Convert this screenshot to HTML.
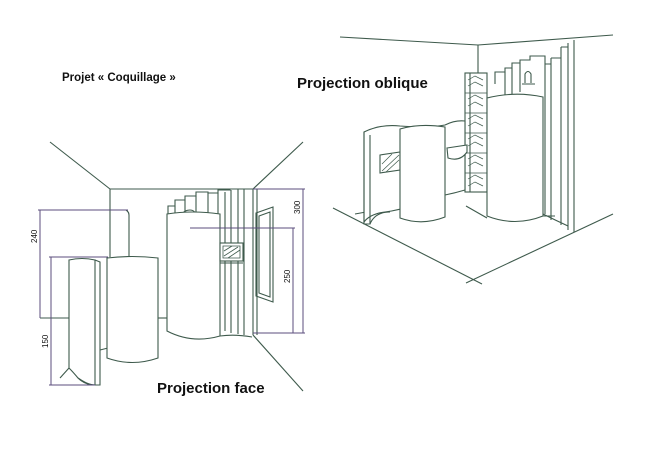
<!DOCTYPE html>
<html><head><meta charset="utf-8"><style>
html,body{margin:0;padding:0;background:#fff;}
svg{display:block;}
text{font-family:"Liberation Sans",sans-serif;}
</style></head><body>
<svg width="655" height="455" viewBox="0 0 655 455" xmlns="http://www.w3.org/2000/svg">
<rect width="655" height="455" fill="#fff"/>
<text x="62" y="81" font-size="11.5" font-weight="bold" fill="#111">Projet « Coquillage »</text>
<text x="297" y="88" font-size="15" font-weight="bold" fill="#111">Projection oblique</text>
<text x="157" y="393" font-size="15" font-weight="bold" fill="#111">Projection face</text>

<!-- LEFT: face view -->
<g fill="none" stroke="#3e5a4c" stroke-width="1.1">
<line x1="50" y1="142" x2="110" y2="189"/>
<line x1="110" y1="189" x2="253" y2="189"/>
<line x1="253" y1="189" x2="303" y2="142"/>
<line x1="253" y1="189" x2="253" y2="335"/>
<line x1="257" y1="189" x2="257" y2="335"/>
<line x1="253" y1="335" x2="303" y2="391"/>
<line x1="110" y1="189" x2="110" y2="257"/>
<path d="M110 210 L126 210 Q129 212 129 215 L129 257"/>
<line x1="70" y1="318" x2="40" y2="318"/>
<line x1="158" y1="318" x2="168" y2="318"/>
<!-- left panel -->
<path d="M69 260 Q82 257 95 260 L95 385 Q85 385 78 378 Q73 372 69 368 Z" fill="#fff"/>
<path d="M95 260 L100 262 L100 385 L95 385"/>
<path d="M60 378 L69 368 M78 378 Q88 385 95 385"/>
<line x1="100" y1="350" x2="108" y2="348"/>
<!-- middle cylinder -->
<path d="M107 258 Q132 255 158 258 L158 358 Q132 367 107 358 Z" fill="#fff"/>
<!-- steps -->
<path d="M168 215 L168 206 L175 206 L175 200 L185 200 L185 196 L196 196 L196 192 L208 192 L208 193 L218 193 L218 190 L230 190 L230 189"/>
<path d="M175 206 L175 227 M185 200 L185 228 M196 196 L196 228 M208 193 L208 228 M218 193 L218 228"/>
<path d="M180 224 Q180 210 190 210 Q198 210 196 224 M183 222 Q184 214 190 214 Q195 214 194 222"/>
<!-- right cylinder -->
<path d="M167 214 L167 331 Q192 344 220 336 L220 214 Q192 210 167 214 Z" fill="#fff"/>
<path d="M220 336 Q235 334 252 337"/>
<line x1="225" y1="192" x2="225" y2="331"/>
<line x1="231" y1="190" x2="231" y2="333"/>
<line x1="238" y1="189" x2="238" y2="334"/>
<line x1="244" y1="189" x2="244" y2="335"/>
<!-- shelf -->
<rect x="220" y="243" width="23" height="18" fill="#fff"/>
<path d="M223 246 L240 246 L240 258 L223 258 Z M224 256 L238 247 M228 258 L240 250 M224 251 L232 246" stroke-width="0.8"/>
<line x1="220" y1="263" x2="243" y2="263"/>
<!-- mirror -->
<path d="M256 213 L273 207 L273 302 L256 296 Z"/>
<path d="M259 216 L270 212 L270 297 L259 293 Z"/>
</g>
<!-- dimensions -->
<g fill="none" stroke="#5b4d7c" stroke-width="1">
<line x1="40" y1="210" x2="40" y2="318"/>
<line x1="38" y1="210" x2="128" y2="210"/>
<line x1="51" y1="257" x2="51" y2="385"/>
<line x1="49" y1="257" x2="108" y2="257"/>
<line x1="49" y1="385" x2="95" y2="385"/>
<line x1="303" y1="189" x2="303" y2="333"/>
<line x1="253" y1="189" x2="305" y2="189"/>
<line x1="253" y1="333" x2="305" y2="333"/>
<line x1="293" y1="228" x2="293" y2="333"/>
<line x1="190" y1="228" x2="295" y2="228"/>
</g>
<g font-size="8" fill="#111">
<text transform="translate(37,243) rotate(-90)">240</text>
<text transform="translate(48,348) rotate(-90)">150</text>
<text transform="translate(300,214) rotate(-90)">300</text>
<text transform="translate(290,283) rotate(-90)">250</text>
</g>

<!-- RIGHT: oblique view -->
<g fill="none" stroke="#3e5a4c" stroke-width="1.1">
<line x1="340" y1="37" x2="478" y2="45"/>
<line x1="478" y1="45" x2="613" y2="35"/>
<line x1="478" y1="45" x2="478" y2="73"/>
<line x1="333" y1="208" x2="482" y2="284"/>
<line x1="466" y1="283" x2="613" y2="214"/>
<line x1="355" y1="214" x2="366" y2="212"/>
<!-- right wall strips -->
<line x1="568" y1="43" x2="568" y2="230"/>
<line x1="574" y1="40" x2="574" y2="232"/>
<path d="M561 47 L568 47 M561 47 L561 225 M551 58 L561 58 M551 58 L551 220 M545 64 L551 64 M545 64 L545 214"/>
<path d="M543 214 Q555 220 568 226"/>
<!-- steps -->
<path d="M495 84 L495 72 L505 72 L505 68 L512 68 L512 63 L520 63 L520 60 L530 60 L530 56 L545 56 L545 64"/>
<path d="M505 72 L505 95 M512 68 L512 95 M520 63 L520 92"/>
<path d="M525 83 L525 74 Q528 69 531 74 L531 83 M522 84 L535 84"/>
<!-- tile column -->
<rect x="465" y="73" width="22" height="119" fill="#fff"/>
<g stroke-width="0.7">
<path d="M465 93 L487 93 M465 113 L487 113 M465 133 L487 133 M465 153 L487 153 M465 173 L487 173"/>
<path d="M468 80 L475 76 L483 80 M468 86 L475 82 L483 86 M468 99 L475 95 L483 99 M468 106 L475 102 L483 106 M468 119 L475 115 L483 119 M468 126 L475 122 L483 126 M468 139 L475 135 L483 139 M468 146 L475 142 L483 146 M468 159 L475 155 L483 159 M468 166 L475 162 L483 166 M468 179 L475 175 L483 179 M468 186 L475 182 L483 186"/>
</g>
<line x1="470" y1="73" x2="470" y2="192"/>
<!-- curved back panel -->
<path d="M364 132 Q380 124 400 126 Q430 128 445 125 Q455 120 465 121 L465 190 Q455 193 445 195 Q430 198 414 205 Q400 210 385 212 Q370 214 364 222 Z" fill="#fff"/>
<path d="M364 132 L364 224 L370 224 L370 135"/>
<path d="M370 224 Q375 212 390 212"/>
<!-- hatched panel -->
<path d="M380 155 L400 152 L400 170 L380 173 Z"/>
<path d="M382 171 L399 155 M386 172 L399 160 M382 164 L392 154" stroke-width="0.7"/>
<!-- sink -->
<path d="M447 148 L467 145 L467 152 Q460 162 448 158 Z" fill="#fff"/>
<!-- left cylinder -->
<path d="M400 129 Q420 123 445 127 L445 217 Q422 226 400 218 Z" fill="#fff"/>
<!-- right cylinder -->
<path d="M487 98 Q515 91 543 97 L543 216 Q515 227 487 216 Z" fill="#fff"/>
<path d="M487 218 L466 206 M543 216 L555 216"/>
</g>
</svg>
</body></html>
